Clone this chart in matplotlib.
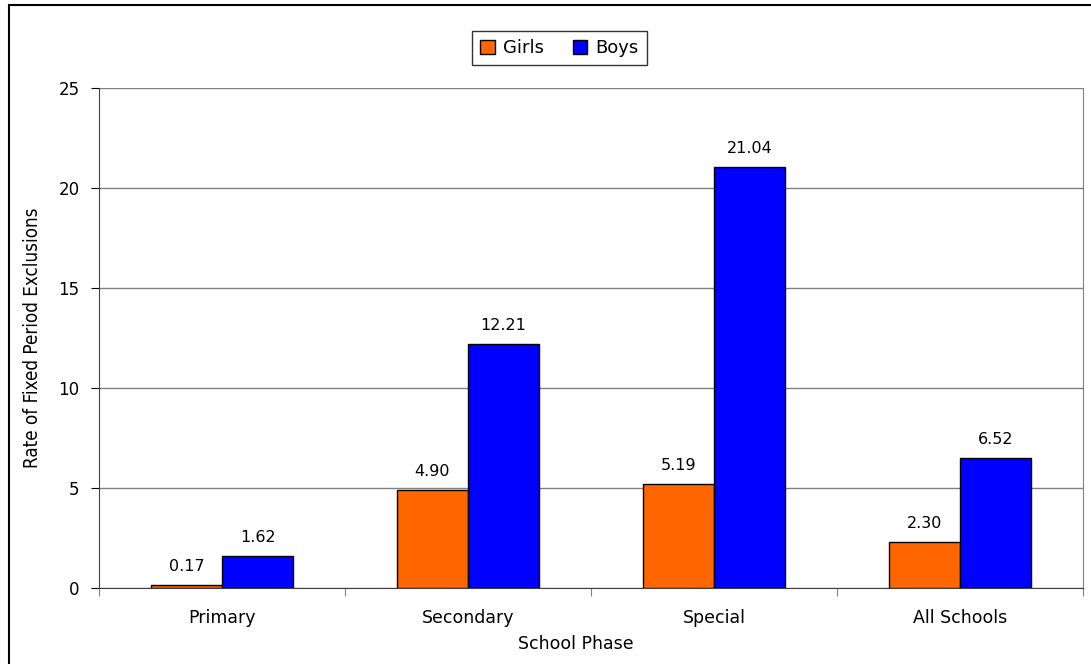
import matplotlib.pyplot as plt
import numpy as np
from matplotlib.patches import Rectangle

phases = ['Primary', 'Secondary', 'Special', 'All Schools']
girls = [0.17, 4.90, 5.19, 2.30]
boys = [1.62, 12.21, 21.04, 6.52]

fig = plt.figure(figsize=(10.91, 6.64), dpi=100)
# outer chart border (runs off the right and bottom edges)
fig.patches.append(Rectangle((9 / 1091, -0.05), 1.05, 1 - 5 / 664 + 0.05,
                             transform=fig.transFigure, fill=False,
                             edgecolor='black', linewidth=1.5))

ax = fig.add_axes([99 / 1091, 1 - 588 / 664, 984 / 1091, 500 / 664])

x = np.arange(len(phases))
w = 0.29
b1 = ax.bar(x - w / 2, girls, w, color='#ff6600', edgecolor='black', linewidth=1, label='Girls', zorder=3)
b2 = ax.bar(x + w / 2, boys, w, color='#0000ff', edgecolor='black', linewidth=1, label='Boys', zorder=3)

for bars, vals in ((b1, girls), (b2, boys)):
    for r, v in zip(bars, vals):
        ax.text(r.get_x() + r.get_width() / 2, v + 0.55, '%.2f' % v,
                ha='center', va='bottom', fontsize=11.5)

ax.set_xlim(-0.5, 3.5)
ax.set_ylim(0, 25)
ax.set_yticks(range(0, 26, 5))
ax.yaxis.grid(True, color='#808080', linewidth=1, zorder=0)
ax.set_xticks(np.arange(-0.5, 4, 1), minor=False)
ax.set_xticklabels([])
ax.set_xticks(x, minor=True)
ax.set_xticklabels(phases, minor=True, fontsize=12.5)
ax.tick_params(axis='x', which='minor', length=0, pad=15)
ax.tick_params(axis='x', which='major', length=6, direction='out', color='#808080')
ax.tick_params(axis='y', length=6, direction='out', labelsize=12, pad=8)

ax.spines['top'].set_visible(False)
ax.spines['right'].set_color('#808080')
ax.spines['left'].set_color('#404040')
ax.spines['bottom'].set_color('#404040')

ax.set_xlabel('School Phase', fontsize=12.5, labelpad=6)
ax.xaxis.label.set_x(0.485)
ax.set_ylabel('Rate of Fixed Period Exclusions', fontsize=13.5, family='DejaVu Sans',
              fontstretch='condensed', labelpad=12)

leg = ax.legend(loc='upper center', bbox_to_anchor=(0.468, 1.132), ncol=2, fontsize=13,
                frameon=True, fancybox=False, edgecolor='black', handlelength=0.8,
                handleheight=0.8, columnspacing=1.6, handletextpad=0.45, borderpad=0.45)
leg.get_frame().set_linewidth(1)

fig.savefig('out.png', dpi=100)
